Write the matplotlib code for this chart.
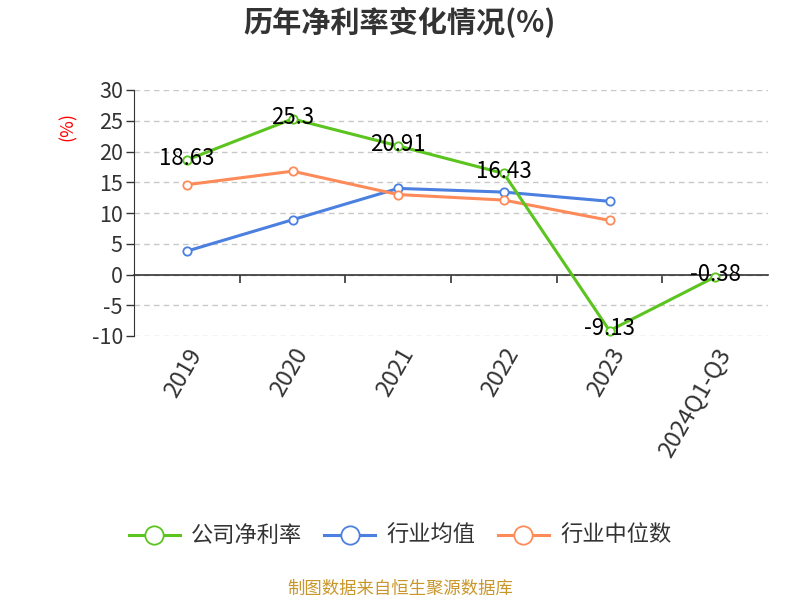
import matplotlib
matplotlib.use("Agg")
import matplotlib.pyplot as plt
import numpy as np

plt.rcParams['font.family'] = ['Noto Sans CJK SC', 'DejaVu Sans']
plt.rcParams['axes.unicode_minus'] = False

years = ['2019', '2020', '2021', '2022', '2023', '2024Q1-Q3']
company = [18.63, 25.3, 20.91, 16.43, -9.13, -0.38]
ind_avg = [3.8, 8.9, 14.0, 13.4, 11.9]
ind_median = [14.6, 16.8, 13.0, 12.1, 8.8]

c_green = '#5bc41e'
c_blue = '#4b80e0'
c_orange = '#fd8b5a'
txt = '#333333'

fig = plt.figure(figsize=(8, 6), dpi=100)
ax = fig.add_axes([0.1675, 0.44, 0.7925, 0.41])

x = np.arange(len(years))
mk = dict(marker='o', markersize=6, markerfacecolor='white', markeredgewidth=1.3, linewidth=2.2)
ax.plot(x, company, color=c_green, label='公司净利率', zorder=3, **mk)
ax.plot(x[:len(ind_avg)], ind_avg, color=c_blue, label='行业均值', zorder=2, **mk)
ax.plot(x[:len(ind_median)], ind_median, color=c_orange, label='行业中位数', zorder=2, **mk)

for xi, v in zip(x, company):
    ax.text(xi, v + 0.3, f'{v:g}', ha='center', va='center', fontsize=16, color='black', zorder=4)

ax.set_xlim(-0.5, len(years) - 0.5)
ax.set_ylim(-10, 30)
ax.set_yticks(np.arange(-10, 31, 5))
ax.tick_params(axis='y', labelsize=15.5, labelcolor=txt, length=6, color=txt, width=1, pad=2)
ax.yaxis.grid(True, linestyle=(0, (4, 3)), color='#c8c8c8', linewidth=1)
ax.set_axisbelow(True)

for s in ['top', 'right']:
    ax.spines[s].set_visible(False)
ax.spines['left'].set_color(txt)
ax.spines['bottom'].set_position(('data', 0))
ax.spines['bottom'].set_color(txt)
ax.spines['bottom'].set_linewidth(1.2)

bounds = np.arange(0.5, len(years) - 0.5, 1.0)
ax.set_xticks(bounds)
ax.set_xticklabels([''] * len(bounds))
ax.tick_params(axis='x', length=6, color=txt, width=1.2, direction='out')

sec = ax.secondary_xaxis('bottom')
sec.set_xticks(x)
sec.set_xticklabels(years, rotation=60, ha='right', rotation_mode='anchor', fontsize=17, color=txt)
sec.tick_params(length=0, pad=6)
sec.spines['bottom'].set_visible(False)

ax.set_ylabel('(%)', color='red', fontsize=13)
ax.yaxis.set_label_coords(-0.09, 0.85)

fig.text(0.5, 0.962, '历年净利率变化情况(%)', ha='center', va='center', fontsize=21, fontweight='bold', color=txt)

fig.legend(loc='center', bbox_to_anchor=(0.5, 0.107), ncol=3, frameon=False, fontsize=16,
           handlelength=2.3, columnspacing=1.0, handletextpad=0.5, labelcolor=txt, markerscale=2.2)

fig.text(0.5, 0.018, '制图数据来自恒生聚源数据库', ha='center', va='center', fontsize=12.5, color='#c9962a')

fig.savefig('out.png', dpi=100)
